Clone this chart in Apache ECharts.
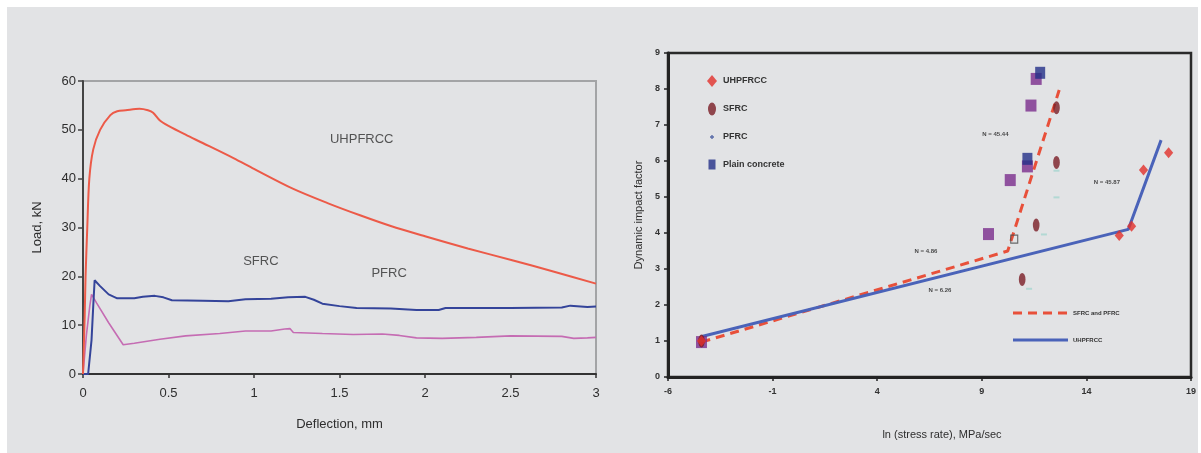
<!DOCTYPE html>
<html>
<head>
<meta charset="utf-8">
<script src="https://cdn.jsdelivr.net/npm/echarts@6/dist/echarts.min.js"></script>
<style>
  html, body { margin: 0; padding: 0; background: #ffffff; }
  #bg { position: absolute; left: 7px; top: 7px; width: 1191px; height: 446px; background: #e2e3e5; }
  #chart { position: absolute; left: 0; top: 0; width: 1201px; height: 453px; }
</style>
</head>
<body>
<div id="bg"></div>
<div id="chart"></div>
<script>
// ---------- Left chart: load vs deflection ----------
const leftXTicks = { min: 0, max: 3, interval: 0.5 };
const leftYTicks = { min: 0, max: 60, interval: 10 };

const uhpfrccCurve = [
  [0, 0], [0.01, 12], [0.015, 20], [0.025, 30], [0.037, 40], [0.06, 46], [0.1, 50],
  [0.16, 53], [0.2, 53.8], [0.25, 54], [0.33, 54.3], [0.38, 54], [0.41, 53.5],
  [0.45, 51.9], [0.5, 50.8], [0.6, 49], [0.7, 47.3], [0.88, 44.2], [1.0, 42],
  [1.23, 37.9], [1.43, 35], [1.62, 32.5], [1.8, 30.3], [2.0, 28.2], [2.25, 25.7],
  [2.51, 23.3], [2.75, 21], [3.0, 18.5]
];
const sfrcCurve = [
  [0, 0], [0.03, 0], [0.05, 7], [0.06, 14], [0.068, 19.2], [0.1, 18], [0.15, 16.3],
  [0.2, 15.5], [0.3, 15.5], [0.35, 15.8], [0.42, 16], [0.47, 15.7], [0.52, 15.1],
  [0.7, 15], [0.85, 14.9], [0.95, 15.3], [1.1, 15.4], [1.2, 15.7], [1.3, 15.8],
  [1.35, 15.2], [1.4, 14.4], [1.5, 13.9], [1.6, 13.5], [1.8, 13.4], [1.95, 13.1],
  [2.08, 13.1], [2.12, 13.5], [2.5, 13.5], [2.8, 13.6], [2.85, 14], [2.95, 13.7], [3, 13.8]
];
const pfrcCurve = [
  [0, 0], [0.02, 8], [0.04, 14], [0.05, 16.3], [0.08, 14.5], [0.15, 10.5], [0.235, 6],
  [0.3, 6.3], [0.45, 7.1], [0.6, 7.8], [0.8, 8.3], [0.95, 8.8], [1.1, 8.8], [1.18, 9.2],
  [1.21, 9.3], [1.23, 8.5], [1.4, 8.3], [1.58, 8.1], [1.75, 8.2], [1.85, 7.9], [1.95, 7.4],
  [2.1, 7.3], [2.3, 7.5], [2.5, 7.8], [2.8, 7.7], [2.87, 7.3], [2.95, 7.4], [3, 7.5]
];
const leftLabels = [
  { text: 'UHPFRCC', at: [1.63, 48.1] },
  { text: 'SFRC', at: [1.04, 23] },
  { text: 'PFRC', at: [1.79, 20.6] }
];

// ---------- Right chart: DIF vs ln(stress rate) ----------
const rightXTicks = { min: -6, max: 19, interval: 5 };
const rightYTicks = { min: 0, max: 9, interval: 1 };

const uhpfrccPoints = [[15.57, 3.93], [16.16, 4.19], [16.73, 5.75], [17.93, 6.23], [-4.4, 1.0]];
const sfrcPoints = [[10.93, 2.71], [11.6, 4.22], [12.57, 5.96], [12.57, 7.48], [-4.4, 1.0]];
const pfrcPoints = [[11.26, 2.45], [11.97, 3.96], [12.57, 4.99], [12.57, 5.73], [-4.4, 1.0]];
const plainNavyPoints = [[11.79, 8.45], [11.18, 6.06]];
const plainPurplePoints = [[11.6, 8.28], [11.35, 7.54], [11.18, 5.85], [10.36, 5.47], [9.32, 3.97], [-4.4, 0.97]];
const oddPoints = [[10.55, 3.83]];
const fitSfrcPfrc = [[-4.4, 0.97], [10.24, 3.5], [12.7, 7.97]];
const fitUhpfrcc = [[-4.43, 1.12], [16.0, 4.1], [17.57, 6.58]];
const rightNotes = [
  { text: 'N = 45.44', at: [9.65, 6.75] },
  { text: 'N = 4.86', at: [6.33, 3.48] },
  { text: 'N = 6.26', at: [7.0, 2.42] },
  { text: 'N = 45.87', at: [14.98, 5.4] }
];

// legend icon paths (corner moves keep the bounding box)
const BOX = 'M0,0 M12,14 ';
const iconDiamond = 'path://' + BOX + 'M6,1 L11,7 L6,13 L1,7 Z';
const iconEllipse = 'path://' + BOX + 'M2,7 A4,6.5 0 1,0 10,7 A4,6.5 0 1,0 2,7 Z';
const iconPlus = 'path://' + BOX + 'M5.3,5 L6.7,5 L6.7,6.3 L8,6.3 L8,7.7 L6.7,7.7 L6.7,9 L5.3,9 L5.3,7.7 L4,7.7 L4,6.3 L5.3,6.3 Z';
const iconRect = 'path://' + BOX + 'M2.5,1.5 L9.5,1.5 L9.5,11.5 L2.5,11.5 Z';
const LBOX = 'M0,0 M55,12 ';
const iconSolidLine = 'path://' + LBOX + 'M0,4.5 L55,4.5 L55,7.5 L0,7.5 Z';
const iconDashLine = 'path://' + LBOX + 'M0,4.5 L9,4.5 L9,7.5 L0,7.5 Z M15,4.5 L24,4.5 L24,7.5 L15,7.5 Z M30,4.5 L39,4.5 L39,7.5 L30,7.5 Z M45,4.5 L54,4.5 L54,7.5 L45,7.5 Z';

const FONT = 'Liberation Sans, Arial, sans-serif';

const chart = echarts.init(document.getElementById('chart'), null, { renderer: 'canvas' });

const option = {
  backgroundColor: 'transparent',
  animation: false,
  textStyle: { fontFamily: FONT },
  grid: [
    { left: 83, top: 81, width: 513, height: 293, show: true, borderColor: '#a3a4a6', borderWidth: 2, backgroundColor: 'transparent' },
    { left: 668, top: 53, width: 523, height: 324, show: true, borderColor: '#2a2a2a', borderWidth: 2.5, backgroundColor: 'transparent' }
  ],
  xAxis: [
    {
      gridIndex: 0, type: 'value', min: leftXTicks.min, max: leftXTicks.max, interval: leftXTicks.interval,
      name: 'Deflection, mm', nameLocation: 'middle', nameGap: 44,
      nameTextStyle: { fontSize: 13, color: '#2e2e2e', fontFamily: FONT },
      axisLine: { onZero: false, lineStyle: { color: '#333', width: 2 } },
      axisTick: { show: true, length: 4, lineStyle: { color: '#333', width: 1.5 } },
      axisLabel: { fontSize: 13, color: '#2e2e2e', margin: 13, fontFamily: FONT },
      splitLine: { show: false }
    },
    {
      gridIndex: 1, type: 'value', min: rightXTicks.min, max: rightXTicks.max, interval: rightXTicks.interval,
      name: 'ln (stress rate), MPa/sec', nameLocation: 'middle', nameGap: 52,
      nameTextStyle: { fontSize: 11, color: '#2e2e2e', fontFamily: FONT, padding: [0, 0, 0, 25] },
      axisLine: { onZero: false, lineStyle: { color: '#222', width: 3 } },
      axisTick: { show: true, length: 4, lineStyle: { color: '#222', width: 1.5 } },
      axisLabel: { fontSize: 9, fontWeight: 'bold', color: '#333', margin: 10, fontFamily: FONT },
      splitLine: { show: false }
    }
  ],
  yAxis: [
    {
      gridIndex: 0, type: 'value', min: leftYTicks.min, max: leftYTicks.max, interval: leftYTicks.interval,
      name: 'Load, kN', nameLocation: 'middle', nameGap: 39,
      nameTextStyle: { fontSize: 13, color: '#2e2e2e', fontFamily: FONT },
      axisLine: { show: true, onZero: false, lineStyle: { color: '#444', width: 2 } },
      axisTick: { show: true, length: 5, lineStyle: { color: '#444', width: 1.5 } },
      axisLabel: { fontSize: 13, color: '#2e2e2e', margin: 7, fontFamily: FONT },
      splitLine: { show: false }
    },
    {
      gridIndex: 1, type: 'value', min: rightYTicks.min, max: rightYTicks.max, interval: rightYTicks.interval,
      name: 'Dynamic impact factor', nameLocation: 'middle', nameGap: 24,
      nameTextStyle: { fontSize: 11, color: '#2e2e2e', fontFamily: FONT },
      axisLine: { show: true, onZero: false, lineStyle: { color: '#222', width: 3 } },
      axisTick: { show: true, length: 4, lineStyle: { color: '#222', width: 1.5 } },
      axisLabel: { fontSize: 9, fontWeight: 'bold', color: '#333', margin: 8, fontFamily: FONT },
      splitLine: { show: false }
    }
  ],
  legend: [
    {
      orient: 'vertical', left: 701, top: 69, itemWidth: 12, itemHeight: 14, itemGap: 14,
      textStyle: { fontSize: 9, fontWeight: 'bold', color: '#333', fontFamily: FONT, padding: [2, 0, 0, 0] },
      selectedMode: false,
      data: [
        { name: 'UHPFRCC', icon: iconDiamond },
        { name: 'SFRC', icon: iconEllipse },
        { name: 'PFRC', icon: iconPlus, itemStyle: { color: '#3a4f9a' } },
        { name: 'Plain concrete', icon: iconRect }
      ]
    },
    {
      orient: 'vertical', left: 1008, top: 302, itemWidth: 55, itemHeight: 12, itemGap: 15,
      textStyle: { fontSize: 6, fontWeight: 'bold', color: '#333', fontFamily: FONT },
      selectedMode: false,
      formatter: function (n) { return n.replace(' fit', ''); },
      data: [
        { name: 'SFRC and PFRC', icon: iconDashLine, itemStyle: { color: '#e8503a' } },
        { name: 'UHPFRCC fit', icon: iconSolidLine, itemStyle: { color: '#4a63b9' } }
      ]
    }
  ],
  series: [
    { type: 'line', xAxisIndex: 0, yAxisIndex: 0, name: 'UHPFRCC curve', data: uhpfrccCurve, symbol: 'none', smooth: 0.3,
      lineStyle: { color: '#ec5a48', width: 2 }, itemStyle: { color: '#ec5a48' }, z: 3 },
    { type: 'line', xAxisIndex: 0, yAxisIndex: 0, name: 'PFRC curve', data: pfrcCurve, symbol: 'none',
      lineStyle: { color: '#c56cb3', width: 1.6 }, itemStyle: { color: '#c56cb3' }, z: 2 },
    { type: 'line', xAxisIndex: 0, yAxisIndex: 0, name: 'SFRC curve', data: sfrcCurve, symbol: 'none',
      lineStyle: { color: '#34449a', width: 2 }, itemStyle: { color: '#34449a' }, z: 2 },
    { type: 'scatter', xAxisIndex: 0, yAxisIndex: 0, name: 'left labels', symbolSize: 0, z: 5,
      data: leftLabels.map(function (d) { return { value: d.at, name: d.text }; }),
      label: { show: true, position: 'inside', formatter: '{b}', fontSize: 13, color: '#2e2e2e', fontFamily: FONT } },

    { type: 'line', xAxisIndex: 1, yAxisIndex: 1, name: 'SFRC and PFRC', data: fitSfrcPfrc, symbol: 'none',
      lineStyle: { color: '#e8503a', width: 3, type: [9, 6] }, itemStyle: { color: '#e8503a' }, z: 3 },
    { type: 'line', xAxisIndex: 1, yAxisIndex: 1, name: 'UHPFRCC fit', data: fitUhpfrcc, symbol: 'none',
      lineStyle: { color: '#4a63b9', width: 3 }, itemStyle: { color: '#4a63b9' }, z: 3 },
    { type: 'scatter', xAxisIndex: 1, yAxisIndex: 1, name: 'Plain concrete purple', data: plainPurplePoints,
      symbol: 'rect', symbolSize: [11, 12], itemStyle: { color: '#7b2c8c' }, z: 4 },
    { type: 'scatter', xAxisIndex: 1, yAxisIndex: 1, name: 'Plain concrete', data: plainNavyPoints,
      symbol: 'rect', symbolSize: [10, 12], itemStyle: { color: '#243088' }, z: 4 },
    { type: 'scatter', xAxisIndex: 1, yAxisIndex: 1, name: 'PFRC', data: pfrcPoints,
      symbol: 'rect', symbolSize: [6, 2], itemStyle: { color: '#a6d6cf' }, z: 5 },
    { type: 'scatter', xAxisIndex: 1, yAxisIndex: 1, name: 'SFRC', data: sfrcPoints,
      symbol: iconEllipse, symbolSize: [10, 14], itemStyle: { color: '#7a1d25' }, z: 6 },
    { type: 'scatter', xAxisIndex: 1, yAxisIndex: 1, name: 'UHPFRCC', data: uhpfrccPoints,
      symbol: iconDiamond, symbolSize: [11, 13], itemStyle: { color: '#e2302a' }, z: 6 },
    { type: 'scatter', xAxisIndex: 1, yAxisIndex: 1, name: 'odd', data: oddPoints,
      symbol: 'rect', symbolSize: [7, 8], itemStyle: { color: 'transparent', borderColor: '#4a4a4a', borderWidth: 1.2 }, z: 6 },
    { type: 'scatter', xAxisIndex: 1, yAxisIndex: 1, name: 'notes', symbolSize: 0, z: 7,
      data: rightNotes.map(function (d) { return { value: d.at, name: d.text }; }),
      label: { show: true, position: 'inside', formatter: '{b}', fontSize: 6, fontWeight: 'bold', color: '#222', fontFamily: FONT } }
  ]
};
chart.setOption(option);
</script>
</body>
</html>
